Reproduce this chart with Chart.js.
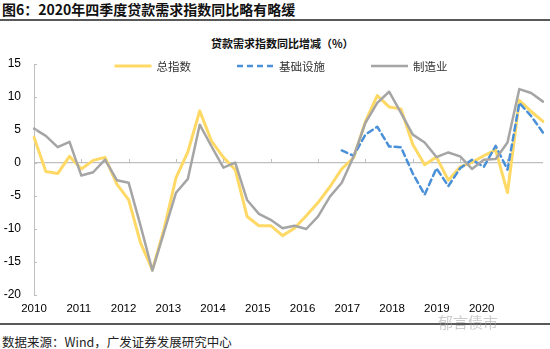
<!DOCTYPE html>
<html>
<head>
<meta charset="utf-8">
<script src="https://cdn.jsdelivr.net/npm/chart.js@4"></script>
<style>
    body { margin: 0; width: 550px; height: 349px; position: relative; background: #fff; overflow: hidden; font-family: "Noto Sans CJK SC", sans-serif; }
    .title { position: absolute; left: 2px; top: 0; font-size: 14px; font-weight: bold; line-height: 18px; color: #111; }
    .rule { position: absolute; left: 0; width: 550px; height: 2px; background: #595959; }
    .subtitle { position: absolute; left: 211px; top: 35px; font-size: 11px; font-weight: bold; line-height: 16px; color: #111; }
    .source { position: absolute; left: 2px; top: 334px; font-size: 12.5px; line-height: 16px; color: #222; }
    .mark { position: absolute; left: 438px; top: 313px; font-size: 15px; line-height: 18px; color: rgba(160, 160, 160, 0.55); }
    #wrap { position: absolute; left: 0; top: 24px; width: 550px; height: 296px; }
</style>
</head>
<body>
<div class="title">图6：2020年四季度贷款需求指数同比略有略缓</div>
<div class="rule" style="top: 19px;"></div>
<div class="subtitle">贷款需求指数同比增减（%）</div>
<div id="wrap"><canvas id="loanChart" width="550" height="296"></canvas></div>
<div class="rule" style="top: 323px;"></div>
<div class="mark">郁言债市</div>
<div class="source">数据来源：Wind，广发证券发展研究中心</div>

<script>
// Quarterly data, 2010Q1 - 2020Q4
const years = ['2010', '2011', '2012', '2013', '2014', '2015', '2016', '2017', '2018', '2019', '2020'];
const quarters = years.flatMap(y => ['Q1', 'Q2', 'Q3', 'Q4'].map(q => y + q));

const totalIndex = [
    3.9, -1.3, -1.6, 1.0, -0.9, 0.4, 0.85, -3.2, -5.6, -12.1, -16.2,
    -9.9, -2.2, 1.7, 7.9, 3.3, 0.85, -1.0, -8.1, -9.5, -9.5, -11.0,
    -9.9, -8.0, -6.0, -3.6, -0.9, 0.8, 6.3, 10.2, 8.5, 8.2, 2.8,
    -0.25, 0.9, -2.6, -0.6, 0.1, 1.1, 2.0, -4.5, 9.5, 7.8, 6.3
];
const infrastructure = [
    null, null, null, null, null, null, null, null, null, null, null,
    null, null, null, null, null, null, null, null, null, null, null,
    null, null, null, null, 1.9, 1.1, 4.3, 5.5, 2.5, 2.4, -1.6,
    -4.8, -0.8, -3.5, -0.8, 0.5, -0.6, 2.6, -1.0, 9.1, 7.1, 4.6
];
const manufacturing = [
    5.2, 4.1, 2.4, 3.2, -1.9, -1.4, 0.5, -2.6, -3.0, -9.5, -16.3,
    -10.4, -4.5, -2.4, 5.8, 2.5, -0.7, 0.05, -5.6, -7.7, -8.6, -9.9,
    -9.5, -10.0, -8.1, -5.1, -3.0, 1.0, 6.1, 9.1, 10.8, 7.6, 4.3,
    3.1, 0.9, 1.6, 1.0, -0.9, 0.5, 0.6, 3.1, 11.2, 10.6, 9.3
];

const AXIS_COLOR = '#BFBFBF';

// Line-sample legend drawn inside the plot, under the subtitle
const lineLegend = {
    id: 'lineLegend',
    afterDatasetsDraw(chart) {
        const ctx = chart.ctx;
        const sample = 37, gap = 5, spacing = 46, y = 42;
        ctx.save();
        ctx.font = '11.5px "Noto Sans CJK SC"';
        ctx.textBaseline = 'middle';
        const items = chart.data.datasets.map(ds => ({
            ds,
            w: sample + gap + ctx.measureText(ds.label).width
        }));
        const total = items.reduce((s, it) => s + it.w, 0) + spacing * (items.length - 1);
        let x = 281 - total / 2;
        items.forEach(({ ds, w }) => {
            ctx.strokeStyle = ds.borderColor;
            ctx.lineWidth = ds.borderWidth;
            ctx.setLineDash(ds.borderDash || []);
            ctx.beginPath();
            ctx.moveTo(x, y);
            ctx.lineTo(x + sample, y);
            ctx.stroke();
            ctx.setLineDash([]);
            ctx.fillStyle = '#333';
            ctx.fillText(ds.label, x + sample + gap, y + 1);
            x += w + spacing;
        });
        ctx.restore();
    }
};

// Small tick marks: yearly marks on the zero line, inward marks on the y axis
const axisMarks = {
    id: 'axisMarks',
    afterDraw(chart) {
        const ctx = chart.ctx;
        const xs = chart.scales.x;
        const ys = chart.scales.y;
        const zero = ys.getPixelForValue(0);
        ctx.save();
        ctx.strokeStyle = AXIS_COLOR;
        ctx.lineWidth = 1;
        ctx.beginPath();
        for (let i = 0; i < quarters.length; i += 4) {
            const px = Math.round(xs.getPixelForValue(i)) + 0.5;
            ctx.moveTo(px, zero);
            ctx.lineTo(px, zero - 4);
        }
        const left = chart.chartArea.left;
        ys.ticks.forEach(t => {
            const py = Math.round(ys.getPixelForValue(t.value)) + 0.5;
            ctx.moveTo(left, py);
            ctx.lineTo(left + 3, py);
        });
        ctx.stroke();
        ctx.restore();
    }
};

Chart.defaults.font.family = '"Liberation Sans", Arial, sans-serif';
Chart.defaults.color = '#000';

new Chart(document.getElementById('loanChart'), {
    type: 'line',
    data: {
        labels: quarters,
        datasets: [
            {
                label: '总指数',
                data: totalIndex,
                borderColor: '#FFD966',
                borderWidth: 3,
                order: 2
            },
            {
                label: '基础设施',
                data: infrastructure,
                borderColor: '#4A90D9',
                borderWidth: 2.5,
                borderDash: [6, 4],
                order: 1
            },
            {
                label: '制造业',
                data: manufacturing,
                borderColor: '#A5A5A5',
                borderWidth: 2.5,
                order: 0
            }
        ]
    },
    options: {
        responsive: false,
        animation: false,
        layout: { padding: { top: 40, right: 2, left: 0, bottom: 0 } },
        elements: {
            point: { radius: 0 },
            line: { tension: 0, borderCapStyle: 'round', borderJoinStyle: 'round' }
        },
        plugins: {
            legend: { display: false },
            tooltip: { enabled: false }
        },
        scales: {
            x: {
                type: 'category',
                display: false,
                offset: false
            },
            years: {
                type: 'linear',
                position: 'bottom',
                min: 0,
                max: 11.37,
                afterFit: scale => { scale.height = 25; },
                grid: { display: false, drawTicks: false },
                border: { display: false },
                ticks: {
                    stepSize: 1,
                    autoSkip: false,
                    maxRotation: 0,
                    padding: 7,
                    font: { size: 11.5 },
                    callback: v => (Number.isInteger(v) && v < years.length) ? years[v] : ''
                }
            },
            y: {
                min: -20,
                max: 15,
                afterFit: scale => { scale.width = 34; },
                grid: {
                    drawTicks: false,
                    color: ctx => ctx.tick && ctx.tick.value === 0 ? AXIS_COLOR : 'rgba(0,0,0,0)',
                    lineWidth: 1.3
                },
                border: { display: true, color: AXIS_COLOR, width: 1 },
                ticks: {
                    stepSize: 5,
                    padding: 13,
                    font: { size: 12 }
                }
            }
        }
    },
    plugins: [lineLegend, axisMarks]
});
</script>
</body>
</html>
